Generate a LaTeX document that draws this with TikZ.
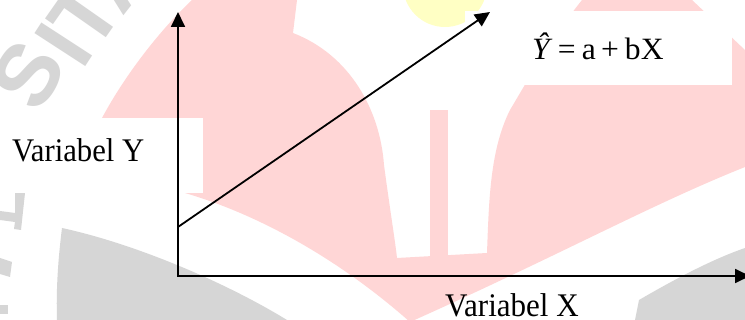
\documentclass[tikz,border=0pt]{standalone}
\usepackage{fontspec}
\setmainfont{Liberation Serif}
\newfontfamily\wmfont{Liberation Sans}
\usetikzlibrary{arrows.meta}
\definecolor{wmpink}{RGB}{255,214,214}
\definecolor{wmgrey}{RGB}{214,214,214}
\definecolor{wmyellow}{RGB}{255,255,196}
\begin{document}
\begin{tikzpicture}[x=1pt,y=-1pt,
  axis/.style={line width=1.8pt,{Triangle[length=15pt,width=14pt]}-{Triangle[length=15pt,width=14pt]}},
  vec/.style={line width=1.8pt,-{Triangle[length=15pt,width=14pt]}},
  lbl/.style={inner sep=0pt,font=\fontsize{33}{36}\selectfont},
  wm/.style={inner sep=0pt,text=wmgrey,font=\wmfont\bfseries\fontsize{88}{88}\selectfont,anchor=base}]
\useasboundingbox (0,0) rectangle (745,320);
\fill[white] (0,0) rectangle (745,320);
% watermark
\fill[wmyellow] (445,-15) circle (42);
\fill[wmpink] (102,118) .. controls (125,75) and (160,30) .. (192,0) -- (297,0) -- (293,33)
  .. controls (350,55) and (380,110) .. (384,165) .. controls (390,210) and (395,240) .. (397,258)
  -- (487,253) .. controls (489,200) and (490,150) .. (510,110) .. controls (525,85) and (550,40) .. (582,0)
  -- (692,0) -- (745,50) -- (745,167) .. controls (650,205) and (560,255) .. (410,322)
  .. controls (340,260) and (260,215) .. (185,193) -- cycle;
\fill[wmpink] (430,110) rectangle (448,256);
\fill[wmgrey] (62,228) .. controls (140,245) and (230,285) .. (287,320) -- (57,320) .. controls (56,290) and (58,260) .. (62,228) -- cycle;
\fill[wmgrey] (635,320) -- (639,300) .. controls (670,282) and (710,260) .. (745,248) -- (745,320) -- cycle;
\node[wm,rotate=60] (ws) at (54,90) {S};
\node[wm,rotate=57] (wi) at (89,61) {I};
\node[wm,rotate=55] (wt) at (110,32) {T};
\node[wm,rotate=52] (wa) at (142,-8) {A};
\fill[wmgrey] (15,193) -- (25,193) -- (21,230) -- (14,229) -- (15,222) -- (0,220) -- (0,211) -- (15,213) -- cycle;
\fill[wmgrey] (0,258) -- (12,262) -- (10,277) -- (0,274) -- cycle;
\fill[wmgrey] (0,305) -- (8,305) -- (8,314) -- (0,314) -- cycle;
% white label boxes
\fill[white] (0,118) rectangle (203,193);
\fill[white] (465,11) rectangle (732,85);
% diagram
\coordinate (O) at (178,276);
\coordinate (ytop) at (178,12);
\coordinate (xend) at (750,276);
\coordinate (ls) at (178,227);
\coordinate (lt) at (490,12);
\draw[axis] (ytop) -- (O) -- (xend);
\draw[vec] (ls) -- (lt);
\node[lbl,anchor=base west,xscale=0.93] (vy) at (12,162) {Variabel Y};
\node[lbl,anchor=base west,xscale=0.94] (vx) at (445,317) {Variabel X};
\node[inner sep=0pt,anchor=base west,xscale=1.02,font=\fontsize{31}{33}\selectfont] (eq) at (532,60)
  {{\itshape Ŷ}\hspace{8pt}=\hspace{6pt}a\hspace{5pt}+\hspace{6pt}bX};
\end{tikzpicture}
\end{document}
